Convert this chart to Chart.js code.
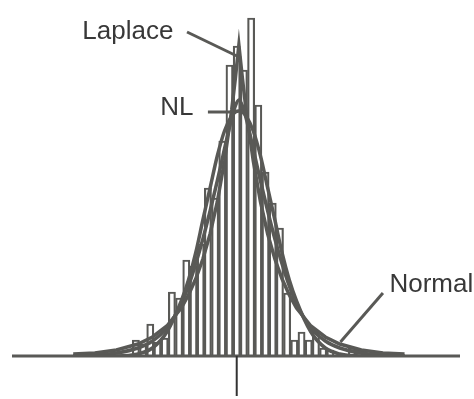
<!DOCTYPE html>
<html>
<head>
<meta charset="utf-8">
<script src="https://cdn.jsdelivr.net/npm/chart.js@4/dist/chart.umd.min.js"></script>
<style>
  html, body { margin: 0; padding: 0; background: #fff; }
  #wrap { width: 474px; height: 399px; }
</style>
</head>
<body>
<div id="wrap"><canvas id="chart" width="474" height="399"></canvas></div>
<script>
// Histogram of residuals with three fitted densities (Normal, NL, Laplace)

// histogram bins (bin index, 0 = centre tick) and their heights
const binX = [-14, -13, -12, -11, -10, -9, -8, -7, -6, -5, -4, -3, -2, -1, 0, 1, 2,
  3, 4, 5, 6, 7, 8, 9, 10, 11, 12, 13, 14, 15, 16, 17];
const binCounts = [16, 12, 32, 14, 18, 64, 58, 96, 90, 112, 168, 158, 215, 291, 310, 286, 338,
  251, 184, 153, 128, 63, 16, 24, 16, 24, 8, 6, null, null, 8, 6];

// fitted curves, sampled at the same x positions
const curveX = [-22.7, -19.7, -16.7, -13.7, -11.7, -9.7, -7.7, -6.7, -5.7, -4.7, -3.7, -2.7,
  -1.7, -0.7, -0.2, 0.3, 0.8, 1.3, 2.3, 3.3, 4.3, 5.3, 6.3, 7.3, 8.3, 10.3, 12.3, 14.3, 17.3, 20.3, 23.3];
const normalY = [0, 0, 0, 2, 8, 24, 55, 76, 103, 136, 168, 200, 225, 240, 244, 245,
  244, 240, 225, 200, 168, 136, 103, 76, 55, 24, 8, 2, 0, 0, 0];
const nlY = [0, 1, 3, 8, 15, 28, 52, 70, 92, 117, 145, 175, 207, 238, 250, 256,
  250, 238, 207, 175, 145, 117, 92, 70, 52, 28, 15, 8, 3, 1, 0];
const laplaceY = [2, 3, 6, 12, 19, 30, 48, 61, 77, 97, 122, 154, 195, 246, 277, 311,
  277, 246, 195, 154, 122, 97, 77, 61, 48, 30, 19, 12, 6, 3, 2];

const INK = '#595956';
const TEXT = '#383838';

// callouts, in data units: text anchor + leader line
const callouts = [
  { text: 'Laplace', tx: -8.8, ty: 324, align: 'right', from: [-6.9, 324], to: [0.6, 298] },
  { text: 'NL', tx: -6.0, ty: 248, align: 'right', from: [-4.0, 244], to: [-0.8, 244] },
  { text: 'Normal', tx: 21.2, ty: 71, align: 'left', from: [20.3, 63], to: [14.4, 14] },
];

const pts = (xs, ys) => xs.map((x, i) => ({ x, y: ys[i] }));

const decor = {
  id: 'decor',
  afterDatasetsDraw(chart) {
    const { ctx, chartArea: a, scales: { x, y } } = chart;
    const base = y.getPixelForValue(0);
    ctx.save();
    // baseline
    ctx.strokeStyle = INK;
    ctx.lineWidth = 3;
    ctx.beginPath();
    ctx.moveTo(a.left, base);
    ctx.lineTo(a.right, base);
    ctx.stroke();
    // centre tick
    const cx = x.getPixelForValue(0);
    ctx.strokeStyle = '#333';
    ctx.lineWidth = 2;
    ctx.beginPath();
    ctx.moveTo(cx, base);
    ctx.lineTo(cx, base + 40);
    ctx.stroke();
    // labels + leaders
    ctx.font = '26px "Liberation Sans", Arial, sans-serif';
    ctx.textBaseline = 'middle';
    ctx.fillStyle = TEXT;
    ctx.strokeStyle = INK;
    ctx.lineWidth = 3;
    callouts.forEach(c => {
      ctx.textAlign = c.align;
      ctx.fillText(c.text, x.getPixelForValue(c.tx), y.getPixelForValue(c.ty));
      ctx.beginPath();
      ctx.moveTo(x.getPixelForValue(c.from[0]), y.getPixelForValue(c.from[1]));
      ctx.lineTo(x.getPixelForValue(c.to[0]), y.getPixelForValue(c.to[1]));
      ctx.stroke();
    });
    ctx.restore();
  }
};

const lineStyle = { borderColor: INK, borderWidth: 3.5, pointRadius: 0, fill: false, order: 1 };

new Chart(document.getElementById('chart'), {
  type: 'bar',
  data: {
    datasets: [
      { type: 'line', label: 'Normal', data: pts(curveX, normalY), ...lineStyle, cubicInterpolationMode: 'monotone' },
      { type: 'line', label: 'NL', data: pts(curveX, nlY), ...lineStyle, cubicInterpolationMode: 'monotone' },
      { type: 'line', label: 'Laplace', data: pts(curveX, laplaceY), ...lineStyle, tension: 0 },
      {
        type: 'bar', label: 'Residuals', data: pts(binX, binCounts),
        backgroundColor: '#fff', borderColor: INK, borderWidth: 2.2,
        barPercentage: 1, categoryPercentage: 1, order: 2,
      },
    ],
  },
  options: {
    responsive: false,
    animation: false,
    devicePixelRatio: 1,
    layout: { padding: { left: 12, right: 14, top: 10, bottom: 43 } },
    plugins: { legend: { display: false }, tooltip: { enabled: false } },
    scales: {
      x: { type: 'linear', min: -31.2, max: 31.0, offset: false, display: false },
      y: { min: 0, max: 346, display: false },
    },
  },
  plugins: [decor],
});
</script>
</body>
</html>
